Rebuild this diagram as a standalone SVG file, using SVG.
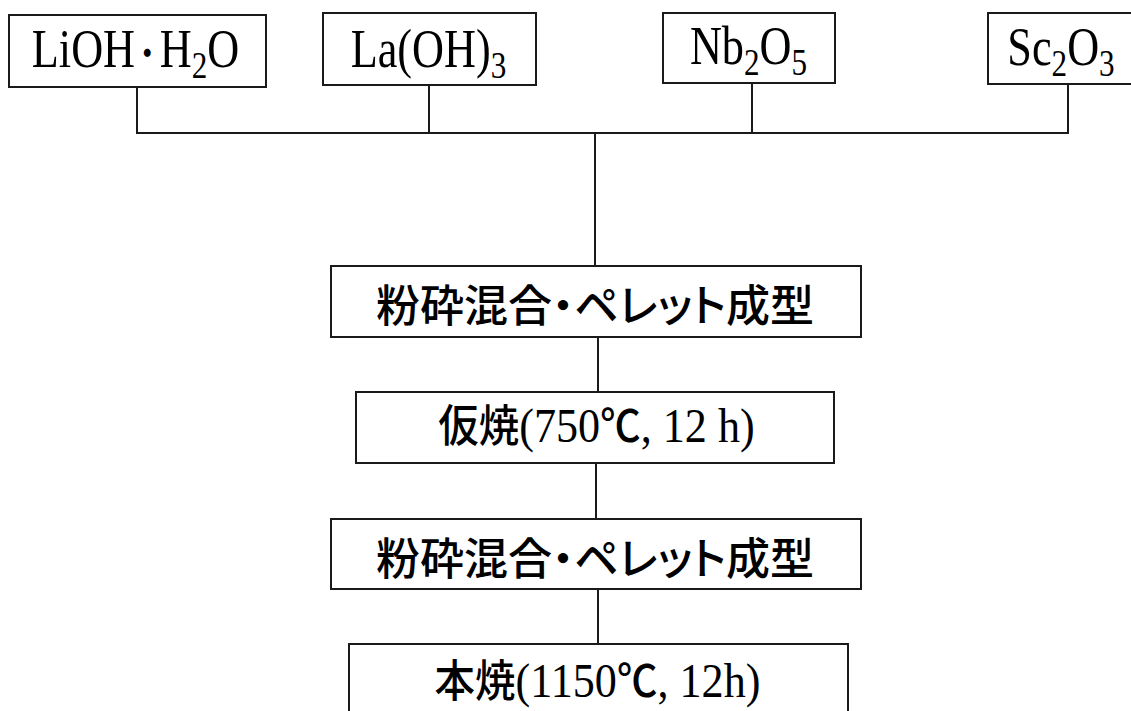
<svg xmlns="http://www.w3.org/2000/svg" width="1131" height="711" viewBox="0 0 1131 711">
<style>
.box{fill:#fff;stroke:#1a1a1a;stroke-width:2}
.ln{stroke:#1a1a1a;stroke-width:2;fill:none}
.tm{font-family:"Liberation Serif","Times New Roman",serif;fill:#000;font-weight:normal}
.jp{font-family:"Noto Sans CJK JP","Noto Sans",sans-serif;fill:#000;font-weight:500}
.row{font-family:"Noto Sans CJK JP","Noto Sans",sans-serif;font-size:44px;fill:#000;font-weight:500;font-feature-settings:"palt"}
</style>
<rect width="1131" height="711" fill="#fff"/>
<g id="connectors">
<line class="ln" x1="137" y1="87" x2="137" y2="133"/>
<line class="ln" x1="429" y1="85" x2="429" y2="133"/>
<line class="ln" x1="752" y1="83" x2="752" y2="133"/>
<line class="ln" x1="1068" y1="84" x2="1068" y2="133"/>
<line class="ln" x1="136" y1="133" x2="1069" y2="133"/>
<line class="ln" x1="595" y1="133" x2="595" y2="266"/>
<line class="ln" x1="598" y1="337" x2="598" y2="392"/>
<line class="ln" x1="596" y1="463" x2="596" y2="519"/>
<line class="ln" x1="598" y1="589" x2="598" y2="644"/>
</g>
<g id="n-lioh">
<rect class="box" x="9" y="15" width="257" height="72"/>
<g transform="translate(135.5,0) scale(0.82,1)">
<text class="tm" x="0" y="67" font-size="54" text-anchor="middle">LiOH<tspan class="jp" font-size="36" font-weight="700" dx="-3">・</tspan><tspan dx="-3">H</tspan><tspan font-size="38" dy="11">2</tspan><tspan dy="-11">O</tspan></text>
</g>
</g>
<g id="n-la">
<rect class="box" x="323" y="13" width="213" height="72"/>
<g transform="translate(428.5,0) scale(0.82,1)">
<text class="tm" x="0" y="67" font-size="54" text-anchor="middle">La(OH)<tspan font-size="38" dy="11">3</tspan></text>
</g>
</g>
<g id="n-nb">
<rect class="box" x="663" y="13" width="172" height="70"/>
<g transform="translate(748.5,0) scale(0.82,1)">
<text class="tm" x="0" y="64" font-size="54" text-anchor="middle">Nb<tspan font-size="38" dy="11">2</tspan><tspan dy="-11">O</tspan><tspan font-size="38" dy="11">5</tspan></text>
</g>
</g>
<g id="n-sc">
<rect class="box" x="988" y="13" width="160" height="71"/>
<g transform="translate(1061,0) scale(0.82,1)">
<text class="tm" x="0" y="65" font-size="54" text-anchor="middle">Sc<tspan font-size="38" dy="11">2</tspan><tspan dy="-11">O</tspan><tspan font-size="38" dy="11">3</tspan></text>
</g>
</g>
<g id="n-mix1">
<rect class="box" x="331" y="266" width="530" height="71"/>
<text class="row" x="595" y="322" text-anchor="middle">粉砕混合・ペレット成型</text>
</g>
<g id="n-calcine">
<rect class="box" x="356" y="392" width="478" height="71"/>
<g transform="translate(596.5,0) scale(0.92,1)">
<text class="jp" x="0" y="442" font-size="44" text-anchor="middle">仮焼<tspan class="tm" font-size="48">(750</tspan>℃<tspan class="tm" font-size="48">, 12 h)</tspan></text>
</g>
</g>
<g id="n-mix2">
<rect class="box" x="331" y="519" width="530" height="70"/>
<text class="row" x="595" y="575" text-anchor="middle">粉砕混合・ペレット成型</text>
</g>
<g id="n-sinter">
<rect class="box" x="349" y="644" width="499" height="80"/>
<g transform="translate(597.5,0) scale(0.92,1)">
<text class="jp" x="0" y="697" font-size="44" text-anchor="middle">本焼<tspan class="tm" font-size="48">(1150</tspan>℃<tspan class="tm" font-size="48">, 12h)</tspan></text>
</g>
</g>
</svg>
